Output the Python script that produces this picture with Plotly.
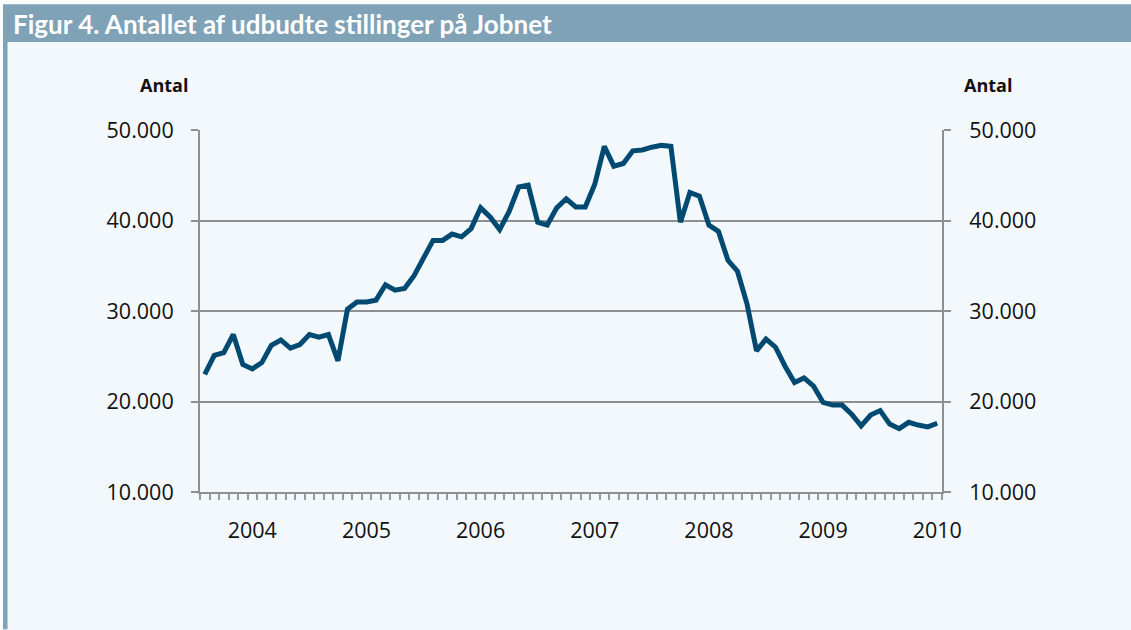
import plotly.graph_objects as go
import pandas as pd

TITLE = "Figur 4. Antallet af udbudte stillinger på Jobnet"
AXIS_LABEL = "Antal"

# Monthly categories: Aug 2003 .. Jan 2010
months = [d.strftime("%Y-%m") for d in pd.date_range("2003-08-01", periods=78, freq="MS")]

values = [
    23000, 25100, 25400, 27400, 24100, 23600, 24300, 26200, 26800, 25900,
    26300, 27400, 27100, 27400, 24500, 30200, 31000, 31000, 31200, 32900,
    32300, 32500, 33900, 35800, 37800, 37800, 38500, 38200, 39100, 41400,
    40400, 39000, 41000, 43700, 43900, 39800, 39500, 41400, 42400, 41500,
    41500, 44000, 48200, 46000, 46300, 47700, 47800, 48100, 48300, 48200,
    39800, 43100, 42700, 39500, 38800, 35600, 34400, 30800, 25600, 26900,
    26000, 23900, 22100, 22600, 21700, 19900, 19600, 19600, 18600, 17300,
    18500, 19000, 17500, 17000, 17700, 17400, 17200, 17600,
]

year_labels = ["2004", "2005", "2006", "2007", "2008", "2009", "2010"]
y_tickvals = [10000, 20000, 30000, 40000, 50000]
y_ticktext = ["10.000", "20.000", "30.000", "40.000", "50.000"]

# positions
idx = list(range(len(months)))
year_pos = [months.index(y + "-01") for y in year_labels]

W, H = 1131, 630
L, R, T, B = 200, 942, 130, 492.5
PW, PH = R - L, B - T


def px_x(px):
    return (px - L) / PW


def px_y(py):
    return (B - py) / PH


BG = "#f3f8fc"
BAR = "#7fa2b7"
GRID = "#8f8f8f"
LINE = "#004a72"
TXT = "#111111"
FONT = "Open Sans"

fig = go.Figure()
fig.add_trace(go.Scatter(
    x=idx, y=values, mode="lines",
    line=dict(color=LINE, width=5),
    text=months, hovertemplate="%{text}: %{y}<extra></extra>",
    showlegend=False,
))
# invisible trace for right axis
fig.add_trace(go.Scatter(
    x=idx, y=values, mode="lines", yaxis="y2",
    line=dict(color="rgba(0,0,0,0)", width=0),
    hoverinfo="skip", showlegend=False,
))

shapes = [
    dict(type="rect", xref="paper", yref="paper", layer="below",
         x0=px_x(0), x1=px_x(W), y0=px_y(4), y1=px_y(0),
         fillcolor="white", line=dict(width=0)),
    dict(type="rect", xref="paper", yref="paper", layer="below",
         x0=px_x(0), x1=px_x(3), y0=px_y(H), y1=px_y(0),
         fillcolor="white", line=dict(width=0)),
    dict(type="rect", xref="paper", yref="paper", layer="below",
         x0=px_x(3), x1=px_x(W), y0=px_y(42), y1=px_y(4),
         fillcolor=BAR, line=dict(width=0)),
    dict(type="rect", xref="paper", yref="paper", layer="below",
         x0=px_x(3), x1=px_x(7.5), y0=px_y(H), y1=px_y(42),
         fillcolor=BAR, line=dict(width=0)),
]

annotations = [
    dict(text="<b>" + TITLE + "</b>", xref="paper", yref="paper",
         x=px_x(11), y=px_y(24), xanchor="left", yanchor="middle",
         showarrow=False, font=dict(family="Lato", size=26, color="white")),
    dict(text="<b>" + AXIS_LABEL + "</b>", xref="paper", yref="paper",
         x=px_x(164), y=px_y(85), xanchor="center", yanchor="middle",
         showarrow=False, font=dict(family=FONT, size=18, color=TXT)),
    dict(text="<b>" + AXIS_LABEL + "</b>", xref="paper", yref="paper",
         x=px_x(988), y=px_y(85), xanchor="center", yanchor="middle",
         showarrow=False, font=dict(family=FONT, size=18, color=TXT)),
]

yaxis_common = dict(
    range=[10000, 50000], tickmode="array", tickvals=y_tickvals, ticktext=y_ticktext,
    ticks="outside", ticklen=7, tickwidth=2, tickcolor=GRID,
    showline=True, linecolor=GRID, linewidth=2,
    tickfont=dict(family=FONT, size=21.5, color=TXT),
    zeroline=False, fixedrange=True,
)

fig.update_layout(
    width=W, height=H,
    margin=dict(l=L, r=W - R, t=T, b=H - B, pad=0),
    paper_bgcolor=BG, plot_bgcolor=BG,
    shapes=shapes, annotations=annotations,
    xaxis=dict(
        range=[-0.5, len(months) - 0.5],
        tickmode="array", tickvals=year_pos, ticktext=year_labels,
        ticks="", ticklabelstandoff=18,
        tickfont=dict(family=FONT, size=21.5, color=TXT),
        showline=True, linecolor=GRID, linewidth=2,
        showgrid=False, zeroline=False, fixedrange=True,
        minor=dict(tickmode="linear", tick0=-0.5, dtick=1, ticks="outside",
                   ticklen=6, tickwidth=2, tickcolor="#9a9a9a", showgrid=False),
    ),
    yaxis=dict(**yaxis_common, side="left", showgrid=True, gridcolor=GRID,
               gridwidth=2, ticklabelstandoff=13),
    yaxis2=dict(**yaxis_common, side="right", overlaying="y", showgrid=False,
                ticklabelstandoff=14),
)

fig.write_html("out.html", config={"displayModeBar": False},
               post_script="document.body.style.margin='0';")
